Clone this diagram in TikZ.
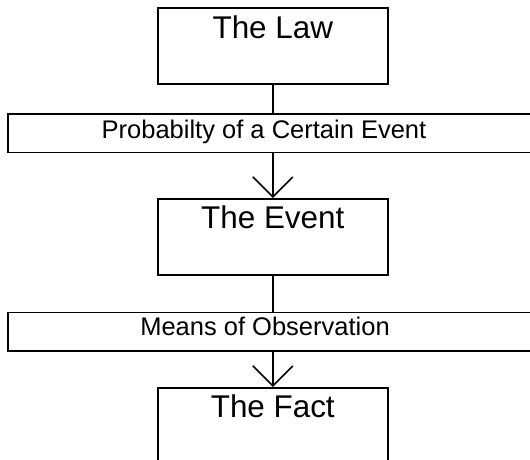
\documentclass[tikz,border=0pt]{standalone}
\usepackage{fontspec}
\setmainfont{Liberation Sans}
\usetikzlibrary{arrows.meta}

\begin{document}
\begin{tikzpicture}[x=1pt,y=-1pt,line width=1.6pt,
    box/.style={draw, inner sep=0pt, minimum width=230pt, text height=30pt, text depth=46pt, font=\fontsize{31.4}{36}\selectfont},
    band/.style={draw, inner sep=0pt, minimum width=533pt, minimum height=38.5pt},
    bandtext/.style={inner sep=0pt, anchor=base, font=\fontsize{25.5}{30}\selectfont},
    barb/.style={-{Straight Barb[length=20pt,width=40pt]}}]
    \useasboundingbox (0,0) rectangle (530,460);

    \coordinate (A1) at (157, 7.3);
    \coordinate (A2) at (157, 198);
    \coordinate (A3) at (157, 387);

    \coordinate (B1) at (7, 113.3);
    \coordinate (B2) at (7, 311.5);

    \coordinate (C1) at (264, 138);
    \coordinate (C2) at (265, 335.7);

    \node (law) at (A1) [box, anchor=north west] {The Law};
    \node (event) at (A2) [box, anchor=north west] {The Event};
    \node (fact) at (A3) [box, anchor=north west, text depth=120pt] {The Fact};

    \node (prob) at (B1) [band, anchor=north west] {};
    \node (means) at (B2) [band, anchor=north west] {};

    \draw (law.south) -- (law.south |- prob.north);
    \draw[barb] (event.north |- prob.south) -- (event.north);
    \draw (event.south) -- (event.south |- means.north);
    \draw[barb] (fact.north |- means.south) -- (fact.north);

%labels
    \node (probtext) at (C1) [bandtext] {Probabilty of a Certain Event};
    \node (meanstext) at (C2) [bandtext] {Means of Observation};

\end{tikzpicture}
\end{document}
